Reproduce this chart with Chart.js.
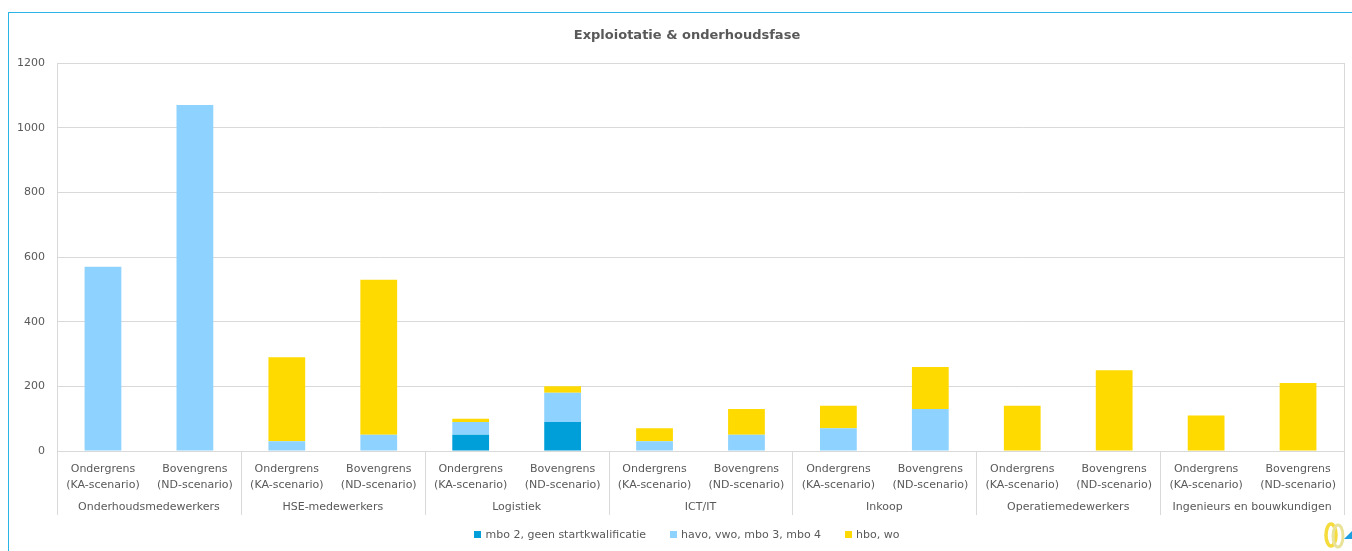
<!DOCTYPE html>
<html>
<head>
<meta charset="utf-8">
<title>Exploiotatie &amp; onderhoudsfase</title>
<script src="https://cdn.jsdelivr.net/npm/chart.js@4/dist/chart.umd.min.js"></script>
<style>
    html, body { margin: 0; padding: 0; background: #fff; }
    #wrap { position: relative; width: 1352px; height: 551px; overflow: hidden;
            font-family: "DejaVu Sans", Verdana, sans-serif; color: #595959; }
    #frame { position: absolute; left: 8px; top: 12px; width: 1400px; height: 600px;
             border-left: 1px solid #2bb5e6; border-top: 1px solid #2bb5e6; }
    #chart { position: absolute; left: 0; top: 0; }
    #title { position: absolute; left: 0; top: 27px; width: 1374px; text-align: center;
             font-size: 13px; font-weight: bold; line-height: 16px; }
    #legend { position: absolute; left: 0; top: 528px; width: 1374px; text-align: center;
              font-size: 11px; line-height: 14px; white-space: nowrap; }
    #legend span.item { display: inline-block; margin: 0 12px; }
    #legend span.box { display: inline-block; width: 7px; height: 7px; margin-right: 4px; }
    #logo { position: absolute; right: 0; bottom: 2px; }
</style>
</head>
<body>
<div id="wrap">
    <div id="frame"></div>
    <canvas id="chart" width="1352" height="551"></canvas>
    <div id="title">Exploiotatie &amp; onderhoudsfase</div>
    <div id="legend"></div>
    <svg id="logo" width="30" height="28" viewBox="0 0 30 28">
        <ellipse cx="9" cy="14" rx="5" ry="11" fill="none" stroke="#f5dc3c" stroke-width="3.5"/>
        <ellipse cx="16" cy="15" rx="5" ry="11" fill="none" stroke="#e9e39a" stroke-width="3"/>
        <polygon points="22,18 30,10 30,18" fill="#1b9fe0"/>
    </svg>
</div>
<script>
// --- DATOS ---
const groups = ['Onderhoudsmedewerkers', 'HSE-medewerkers', 'Logistiek', 'ICT/IT', 'Inkoop', 'Operatiemedewerkers', 'Ingenieurs en bouwkundigen'];
const scenarios = [['Ondergrens', '(KA-scenario)'], ['Bovengrens', '(ND-scenario)']];
const seriesNames = ['mbo 2, geen startkwalificatie', 'havo, vwo, mbo 3, mbo 4', 'hbo, wo'];
const mbo2 = [0, 0, 0, 0, 50, 90, 0, 0, 0, 0, 0, 0, 0, 0];
const havo = [570, 1070, 30, 50, 40, 90, 30, 50, 70, 130, 0, 0, 0, 0];
const hbo = [0, 0, 260, 480, 10, 20, 40, 80, 70, 130, 140, 250, 110, 210];
const yTicks = [0, 200, 400, 600, 800, 1000, 1200];

const colors = ['#009fda', '#8ed3ff', '#ffda00'];
const textColor = '#595959';
const lineColor = '#d9d9d9';
const fontFam = '"DejaVu Sans", Verdana, sans-serif';

const labels = [];
groups.forEach(() => scenarios.forEach(s => labels.push(s)));

// leyenda en HTML (centrada como en el original)
document.getElementById('legend').innerHTML = seriesNames.map((name, i) =>
    `<span class="item"><span class="box" style="background:${colors[i]}"></span>${name}</span>`
).join('');

// marco del area + separadores de grupos
const framePlugin = {
    id: 'frameLines',
    afterDraw(chart) {
        const { ctx, chartArea } = chart;
        const x = chart.scales.x;
        const w = (x.getPixelForValue(1) - x.getPixelForValue(0)) * 2;
        const start = x.getPixelForValue(0) - w / 4;
        ctx.save();
        ctx.strokeStyle = lineColor;
        ctx.lineWidth = 1;
        ctx.strokeRect(Math.round(chartArea.left) + 0.5, Math.round(chartArea.top) + 0.5,
            Math.round(chartArea.right - chartArea.left), Math.round(chartArea.bottom - chartArea.top));
        ctx.beginPath();
        for (let i = 0; i <= groups.length; i++) {
            const px = Math.round(start + i * w) + 0.5;
            ctx.moveTo(px, chartArea.bottom);
            ctx.lineTo(px, chartArea.bottom + 64);
        }
        ctx.stroke();
        ctx.restore();
    }
};

new Chart(document.getElementById('chart'), {
    type: 'bar',
    data: {
        labels: labels,
        datasets: [mbo2, havo, hbo].map((d, i) => ({
            label: seriesNames[i],
            data: d,
            backgroundColor: colors[i],
            borderWidth: 0,
            barPercentage: 0.4,
            categoryPercentage: 1
        }))
    },
    options: {
        responsive: false,
        animation: false,
        layout: { padding: { left: 0, right: 8, top: 63, bottom: 35 } },
        plugins: {
            title: { display: false },
            legend: { display: false },
            tooltip: { enabled: false }
        },
        scales: {
            x: {
                stacked: true,
                grid: { display: false },
                border: { color: lineColor },
                ticks: {
                    color: textColor,
                    font: { family: fontFam, size: 11, lineHeight: 1.45 },
                    padding: 2,
                    maxRotation: 0,
                    autoSkip: false
                },
                afterFit: s => { s.height = 40; }
            },
            x2: {
                type: 'category',
                labels: groups,
                position: 'bottom',
                offset: true,
                grid: { display: false },
                border: { display: false },
                ticks: {
                    color: textColor,
                    font: { family: fontFam, size: 11 },
                    padding: 2,
                    maxRotation: 0,
                    autoSkip: false
                },
                afterFit: s => { s.height = 25; }
            },
            y: {
                stacked: true,
                min: 0,
                max: 1200,
                afterBuildTicks: s => { s.ticks = yTicks.map(v => ({ value: v })); },
                grid: { color: lineColor, drawTicks: false },
                border: { color: lineColor },
                ticks: {
                    color: textColor,
                    font: { family: fontFam, size: 11 },
                    padding: 12,
                    callback: v => String(v)
                },
                afterFit: s => { s.width = 57; }
            }
        }
    },
    plugins: [framePlugin]
});
</script>
</body>
</html>
